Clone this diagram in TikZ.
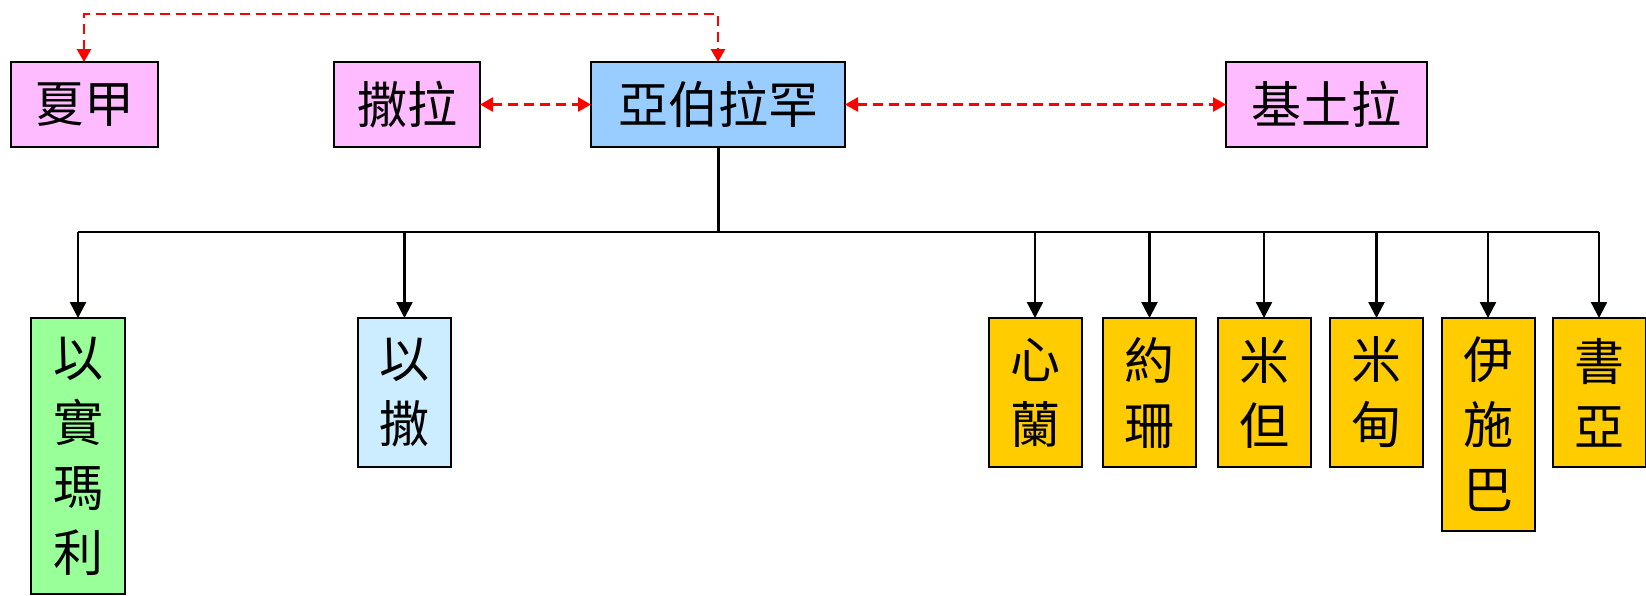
\documentclass[tikz,border=0pt]{standalone}
\usepackage{fontspec}
\setmainfont{Noto Sans CJK TC}
\usetikzlibrary{arrows.meta}

\definecolor{ruzova}{RGB}{255,187,255}
\definecolor{modra}{RGB}{153,204,255}
\definecolor{zelena}{RGB}{153,255,153}
\definecolor{svetlemodra}{RGB}{204,236,255}
\definecolor{zluta}{RGB}{255,204,0}

\begin{document}
\begin{tikzpicture}[
    x=1pt, y=-1pt,
    font=\fontsize{50}{65}\selectfont,
    box/.style={draw, line width=2pt, inner sep=0pt, outer sep=0pt, align=center},
    predek/.style={box, minimum height=85pt},
    potomek/.style={box, minimum width=93pt, fill=zluta},
    vztah/.style={draw=red, line width=2.6pt, dash pattern=on 10pt off 6pt, {Triangle[width=14pt,length=13pt]}-{Triangle[width=14pt,length=13pt]}},
    vetev/.style={line width=2.4pt},
    sipka/.style={line width=2.4pt, -{Triangle[width=16pt,length=16pt]}}]

    \useasboundingbox (0,0) rectangle (1646,595);

    % horni rada
    \node[predek, fill=ruzova, minimum width=147pt] (hagar) at (84,104.5) {夏甲};
    \node[predek, fill=ruzova, minimum width=146pt] (sara) at (407,104.5) {撒拉};
    \node[predek, fill=modra, minimum width=254pt] (abraham) at (718,104.5) {亞伯拉罕};
    \node[predek, fill=ruzova, minimum width=201pt] (ketura) at (1326.5,104.5) {基土拉};

    % manzelky a souloznice
    \coordinate (horem) at (400,14);
    \draw[vztah] (hagar.north) |- (horem) -| (abraham.north);
    \draw[vztah] (sara.east) -- (abraham.west);
    \draw[vztah] (abraham.east) -- (ketura.west);

    % synove
    \node[box, fill=zelena, minimum width=94pt, minimum height=276pt] (izmael) at (78,456) {以\\實\\瑪\\利};
    \node[box, fill=svetlemodra, minimum width=93pt, minimum height=149pt] (izak) at (404.5,392.5) {以\\撒};
    \node[potomek, minimum height=149pt] (zimran) at (1035,392.5) {心\\蘭};
    \node[potomek, minimum height=149pt] (joksan) at (1149.5,392.5) {約\\珊};
    \node[potomek, minimum height=149pt] (medan) at (1264,392.5) {米\\但};
    \node[potomek, minimum height=149pt] (midjan) at (1376.5,392.5) {米\\甸};
    \node[potomek, minimum height=213pt] (jisbak) at (1488,424.5) {伊\\施\\巴};
    \node[potomek, minimum height=149pt] (suach) at (1599,392.5) {書\\亞};

    % rodokmen
    \coordinate (rozcesti) at (718,232);
    \draw[vetev, line width=3pt] (abraham.south) -- (rozcesti);
    \draw[vetev] (izmael.north |- rozcesti) -- (suach.north |- rozcesti);
    \draw[sipka] (izmael.north |- rozcesti) -- (izmael.north);
    \draw[sipka] (izak.north |- rozcesti) -- (izak.north);
    \draw[sipka] (zimran.north |- rozcesti) -- (zimran.north);
    \draw[sipka] (joksan.north |- rozcesti) -- (joksan.north);
    \draw[sipka] (medan.north |- rozcesti) -- (medan.north);
    \draw[sipka] (midjan.north |- rozcesti) -- (midjan.north);
    \draw[sipka] (jisbak.north |- rozcesti) -- (jisbak.north);
    \draw[sipka] (suach.north |- rozcesti) -- (suach.north);
\end{tikzpicture}
\end{document}
